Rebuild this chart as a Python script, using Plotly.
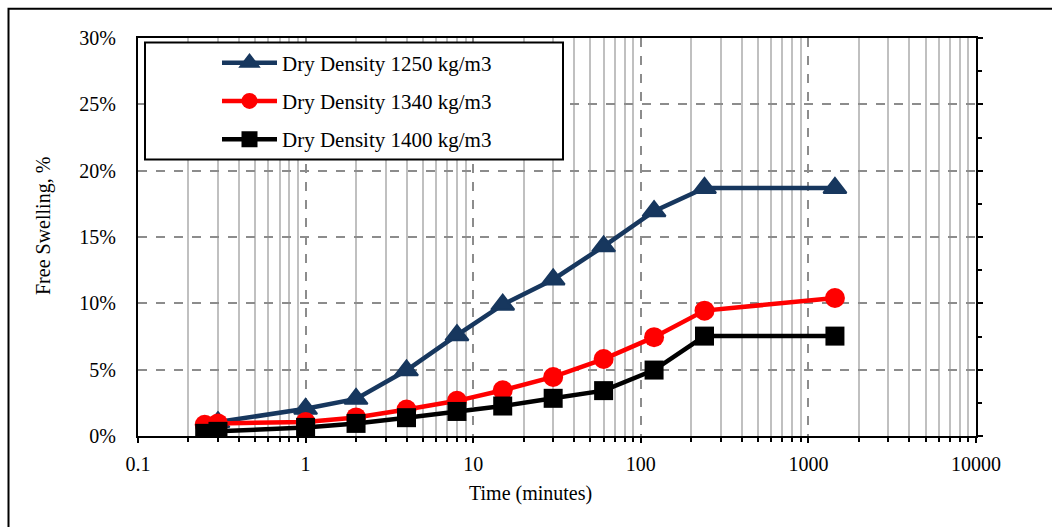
import plotly.graph_objects as go

# ---- data ----
time_min = [0.25, 0.3, 1, 2, 4, 8, 15, 30, 60, 120, 240, 1440]
swell_1250 = [None, 1.05, 2.05, 2.8, 4.95, 7.6, 9.9, 11.8, 14.3, 16.95, 18.7, 18.7]
swell_1340 = [0.85, 0.95, 1.05, 1.4, 2.0, 2.65, 3.45, 4.45, 5.8, 7.45, 9.45, 10.4]
swell_1400 = [0.2, 0.35, 0.65, 0.95, 1.38, 1.85, 2.26, 2.84, 3.42, 4.97, 7.53, 7.53]

series_names = ["Dry Density 1250 kg/m3", "Dry Density 1340 kg/m3", "Dry Density 1400 kg/m3"]
series_colors = ["#17375E", "#FF0000", "#000000"]
series_symbols = ["triangle-up", "circle", "square"]
series_sizes = [20, 20, 19]
series_mlines = [2, 0, 0]

x_tickvals = [0.1, 1, 10, 100, 1000, 10000]
x_ticktext = ["0.1", "1", "10", "100", "1000", "10000"]
x_minor = [m * 10 ** e for e in range(-1, 4) for m in range(2, 10)]

FONT = "Liberation Serif, Times New Roman, serif"

fig = go.Figure()
for name, ys, col, sym, sz, mlw, grp in zip(series_names, [swell_1250, swell_1340, swell_1400],
                                            series_colors, series_symbols, series_sizes,
                                            series_mlines, ["a", "b", "c"]):
    fig.add_trace(go.Scatter(
        x=time_min, y=ys, name=name, mode="lines+markers", legendgroup=grp,
        line=dict(color=col, width=4.5),
        marker=dict(symbol=sym, size=sz, color=col, line=dict(color=col, width=mlw)),
    ))

# helper trace for the right-hand axis
fig.add_trace(go.Scatter(x=[], y=[], yaxis="y2", showlegend=False, hoverinfo="skip"))

W, H = 1052, 527
L, R, T, B = 138, 76, 38, 91
pw, ph = W - L - R, H - T - B


def px(xp):
    return (xp - L) / pw


def py(yp):
    return (T + ph - yp) / ph


fig.update_layout(
    width=W, height=H,
    margin=dict(l=L, r=R, t=T, b=B),
    paper_bgcolor="white", plot_bgcolor="white",
    font=dict(family=FONT, size=20, color="black"),
    xaxis=dict(
        type="log", range=[-1, 4],
        tickvals=x_tickvals, ticktext=x_ticktext,
        ticks="outside", ticklen=5, tickwidth=2, tickcolor="black",
        showline=True, linecolor="black", linewidth=2, mirror=True,
        showgrid=True, gridcolor="#8c8c8c", gridwidth=1.5, griddash="dash",
        ticklabelstandoff=4,
        minor=dict(tickvals=x_minor, ticks="outside", ticklen=4, tickwidth=1.5,
                   tickcolor="black", showgrid=True, gridcolor="#c0c0c0",
                   gridwidth=1.8, griddash="solid"),
        zeroline=False,
    ),
    yaxis=dict(
        range=[0, 30], dtick=5, tick0=0, ticksuffix="%",
        showline=True, linecolor="black", linewidth=2,
        ticks="", showgrid=True, gridcolor="#8c8c8c", gridwidth=1.5, griddash="dash",
        zeroline=False, ticklabelstandoff=16,
    ),
    yaxis2=dict(
        overlaying="y", side="right", range=[0, 30], dtick=5, tick0=0,
        showticklabels=False, showgrid=False, zeroline=False,
        showline=True, linecolor="black", linewidth=2,
        ticks="outside", ticklen=5, tickwidth=2, tickcolor="black",
        minor=dict(dtick=2.5, ticks="outside", ticklen=4, tickwidth=1.5, tickcolor="black"),
    ),
    legend=dict(
        x=px(145), y=py(42.5), xanchor="left", yanchor="top",
        bgcolor="rgba(0,0,0,0)", borderwidth=0,
        font=dict(family=FONT, size=21, color="black"),
        itemwidth=55, indentation=72, tracegroupgap=8,
    ),
    showlegend=True,
    shapes=[
        # legend box
        dict(type="rect", xref="paper", yref="paper", layer="above",
             x0=px(145), x1=px(563), y0=py(42.5), y1=py(159.5),
             line=dict(color="black", width=2), fillcolor="white"),
        # outer frame
        dict(type="rect", xref="paper", yref="paper", layer="below",
             x0=px(8.5), x1=px(1100), y0=py(8.8), y1=py(600),
             line=dict(color="black", width=2), fillcolor="rgba(0,0,0,0)"),
    ],
    annotations=[
        dict(text="Time (minutes)", xref="paper", yref="paper", x=px(530), y=py(493),
             xanchor="center", yanchor="middle", showarrow=False,
             font=dict(family=FONT, size=20, color="black")),
        dict(text="Free Swelling, %", xref="paper", yref="paper", x=px(43), y=py(226),
             xanchor="center", yanchor="middle", showarrow=False, textangle=-90,
             font=dict(family=FONT, size=20, color="black")),
    ],
)

fig.write_html("out.html")
